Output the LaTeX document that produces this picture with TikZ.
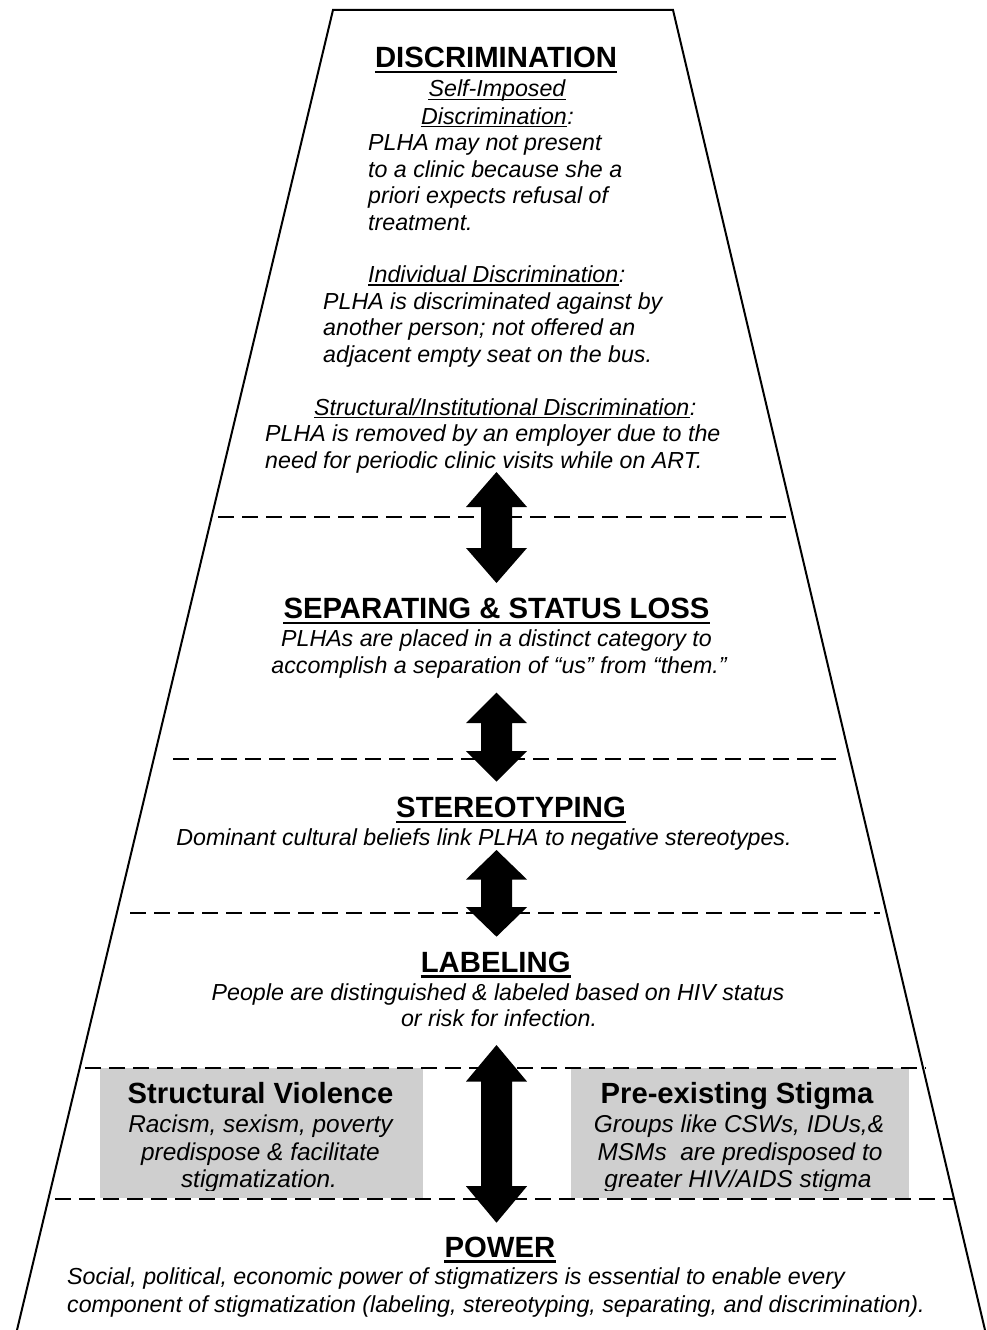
\documentclass[tikz,border=0pt]{standalone}
\usepackage{fontspec}
\setmainfont{Liberation Sans}
\usetikzlibrary{calc}
\definecolor{boxgray}{RGB}{207,207,207}
\tikzset{
  head/.style={font=\fontsize{29.3}{30}\selectfont\bfseries, inner sep=0pt, anchor=base},
  body/.style={font=\fontsize{23.2}{26.7}\selectfont\itshape, inner sep=0pt, anchor=base west},
  bodyc/.style={body, anchor=base},
  boxhead/.style={font=\fontsize{29.2}{30}\selectfont\bfseries, inner sep=0pt, anchor=base},
  boxbody/.style={font=\fontsize{24.4}{27}\selectfont\itshape, inner sep=0pt, anchor=base},
  divider/.style={line width=2.6pt, dash pattern=on 16pt off 8pt},
  edgeline/.style={line width=2pt},
  hul/.style={line width=2.6pt},
  iul/.style={line width=1.3pt},
  grayfill/.style={fill=boxgray, draw=none},
  blockarrow/.style={fill=black},
}
\newcommand\hUL[1]{\draw[hul] ([yshift=-4.5pt]#1.base west) -- ([yshift=-4.5pt]#1.base east);}
\newcommand\iUL[1]{\draw[iul] ([yshift=-2.6pt]#1.base west) -- ([yshift=-2.6pt]#1.base east);}
% x, y top, y bottom, head length
\newcommand\dblarrow[4]{\fill[blockarrow] (#1,#2) -- (#1+30.5,#2+#4) -- (#1+15.5,#2+#4) -- (#1+15.5,#3-#4) -- (#1+30.5,#3-#4) -- (#1,#3) -- (#1-30.5,#3-#4) -- (#1-15.5,#3-#4) -- (#1-15.5,#2+#4) -- (#1-30.5,#2+#4) -- cycle;}

\begin{document}
\begin{tikzpicture}[x=1pt,y=-1pt]
\useasboundingbox (0,0) rectangle (987,1330);

% trapezoid
\coordinate (tl) at (333,10);
\coordinate (tr) at (673,10);
\coordinate (bl) at (17,1330);
\coordinate (br) at (985,1330);
\draw[edgeline] (bl) -- (tl) -- (tr) -- (br);

% gray boxes
\fill[grayfill] (100,1068) rectangle (423,1198);
\fill[grayfill] (571,1068) rectangle (909,1198);

% dividers
\draw[divider] (218,517) -- (792,517);
\draw[divider] (173,759) -- (836,759);
\draw[divider] (130,913) -- (880,913);
\draw[divider] (85,1068) -- (926,1068);
\draw[divider] (55,1199) -- (955,1199);

% DISCRIMINATION section
\node[head] (dh) at (496,67.5) {DISCRIMINATION};
\hUL{dh}
\node[bodyc] (si1) at (497,96.7) {Self-Imposed};
\iUL{si1}
\node[body] (si2) at (421,124) {Discrimination};
\node[body] (si2c) at (si2.base east) {:};
\iUL{si2}
\node[body] (sb1) at (368,150.5) {PLHA may not present};
\node[body] (sb2) at (368,177) {to a clinic because she a};
\node[body] (sb3) at (368,203.5) {priori expects refusal of};
\node[body] (sb4) at (368,230) {treatment.};

\node[body] (id1) at (368,282.5) {Individual Discrimination};
\node[body] (id1c) at (id1.base east) {:};
\iUL{id1}
\node[body] (ib1) at (323,309) {PLHA is discriminated against by};
\node[body] (ib2) at (323,335.7) {another person; not offered an};
\node[body] (ib3) at (323,362.3) {adjacent empty seat on the bus.};

\node[body] (sd1) at (314,415) {Structural/Institutional Discrimination};
\node[body] (sd1c) at (sd1.base east) {:};
\iUL{sd1}
\node[body] (sdb1) at (265,441.3) {PLHA is removed by an employer due to the};
\node[body] (sdb2) at (265,468) {need for periodic clinic visits while on ART.};

% SEPARATING section
\node[head] (sh) at (496.5,618.5) {SEPARATING \& STATUS LOSS};
\hUL{sh}
\node[bodyc] (spb1) at (496.5,646.7) {PLHAs are placed in a distinct category to};
\node[bodyc] (spb2) at (499,673.3) {accomplish a separation of “us” from “them.”};

% STEREOTYPING section
\node[head] (sth) at (511,817.3) {STEREOTYPING};
\hUL{sth}
\node[bodyc] (stb) at (484,845.5) {Dominant cultural beliefs link PLHA to negative stereotypes.};

% LABELING section
\node[head] (lh) at (495.7,972) {LABELING};
\hUL{lh}
\node[bodyc] (lb1) at (498,1000) {People are distinguished \& labeled based on HIV status};
\node[bodyc] (lb2) at (499,1026.7) {or risk for infection.};

% boxes text
\node[boxhead] (svh) at (260.5,1103.3) {Structural Violence};
\node[boxhead] (psh) at (737,1103.3) {Pre-existing Stigma};
\begin{scope}
\clip (100,1068) rectangle (909,1190.5);
\node[boxbody] (sv1) at (260.5,1132.5) {Racism, sexism, poverty};
\node[boxbody] (sv2) at (260.5,1160) {predispose \& facilitate};
\node[boxbody] (sv3) at (259,1187.3) {stigmatization.};
\node[boxbody] (ps1) at (739,1132.5) {Groups like CSWs, IDUs,\&};
\node[boxbody] (ps2) at (740,1160) {MSMs\ \ are predisposed to};
\node[boxbody] (ps3) at (738,1187.3) {greater HIV/AIDS stigma};
\end{scope}

% POWER section
\node[head] (ph) at (500,1257) {POWER};
\hUL{ph}
\node[body] (pb1) at (67,1284) {Social, political, economic power of stigmatizers is essential to enable every};
\node[body] (pb2) at (67,1312) {component of stigmatization (labeling, stereotyping, separating, and discrimination).};

% arrows
\dblarrow{496.5}{472}{583}{35}
\dblarrow{496.5}{692.7}{781.7}{30.5}
\dblarrow{496.5}{850}{936.7}{29.5}
\dblarrow{496.5}{1045}{1222.7}{36.5}
\end{tikzpicture}
\end{document}
